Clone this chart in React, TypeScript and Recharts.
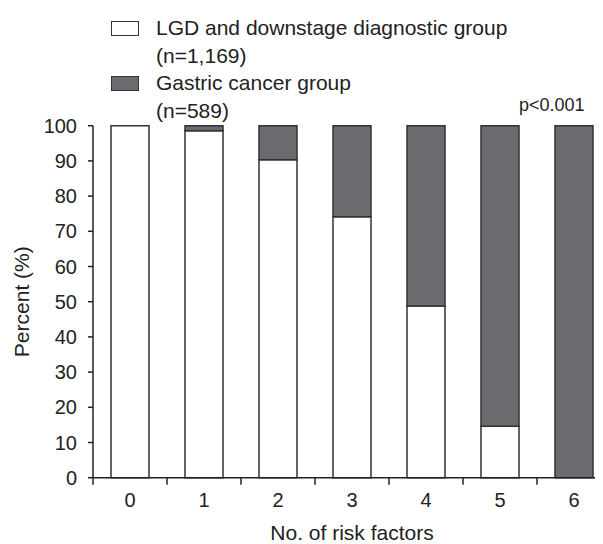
import React from "react";
import { BarChart, Bar, XAxis, YAxis, Legend, Label } from "recharts";

const riskFactors = ["0", "1", "2", "3", "4", "5", "6"];
const lgdPct = [100, 98.6, 90.3, 74.1, 48.8, 14.6, 0];
const cancerPct = [0, 1.4, 9.7, 25.9, 51.2, 85.4, 100];
const yTicks = [0, 10, 20, 30, 40, 50, 60, 70, 80, 90, 100];

const legendItems = [
  { name: "LGD and downstage diagnostic group", n: "(n=1,169)", fill: "#ffffff" },
  { name: "Gastric cancer group", n: "(n=589)", fill: "#6a6b6f" },
];

const data = riskFactors.map((r, i) => ({ r, lgd: lgdPct[i], gc: cancerPct[i] }));

const FONT = "'Liberation Sans', Arial, Helvetica, sans-serif";
const INK = "#222";
const W = 620;
const H = 536;
const margin = { top: 117.7, right: 17, bottom: 0, left: 0 };
const Y_W = 85;
const halfBand = (W - margin.left - margin.right - Y_W) / riskFactors.length / 2;

const XTick = (props: any) => {
  const { x, y, payload, index } = props;
  return (
    <g>
      <line x1={x - halfBand} x2={x - halfBand} y1={y - 7} y2={y} stroke={INK} strokeWidth={1.5} />
      {index === riskFactors.length - 1 && (
        <line x1={x + halfBand} x2={x + halfBand} y1={y - 7} y2={y} stroke={INK} strokeWidth={1.5} />
      )}
      <text x={x} y={y + 8} dy="0.72em" textAnchor="middle" fontSize={20} fill={INK} fontFamily={FONT}>
        {payload.value}
      </text>
    </g>
  );
};

const LegendBox = () => (
  <div style={{ position: "relative", width: 480, height: 115, fontFamily: FONT, fontSize: 21, lineHeight: "27.5px", color: INK }}>
    {legendItems.map((it, k) => (
      <React.Fragment key={it.name}>
        <div
          style={{
            position: "absolute",
            left: 0,
            top: 13 + k * 55,
            width: 26,
            height: 13,
            background: it.fill,
            border: "1.5px solid #333",
          }}
        />
        <div style={{ position: "absolute", left: 45, top: 6 + k * 55, whiteSpace: "nowrap" }}>
          {it.name}
          <br />
          {it.n}
        </div>
      </React.Fragment>
    ))}
    <div style={{ position: "absolute", left: 408, top: 87.8, fontSize: 18, lineHeight: "18px", whiteSpace: "nowrap" }}>
      p&lt;0.001
    </div>
  </div>
);

export default function App() {
  return (
    <div style={{ width: 595, height: H, overflow: "hidden", background: "#fff" }}>
      <BarChart width={W} height={H} data={data} margin={margin}>
        <XAxis
          dataKey="r"
          height={H - margin.top - 352}
          tickLine={false}
          tickSize={7}
          tickMargin={0}
          tick={<XTick />}
          axisLine={{ stroke: INK, strokeWidth: 1.5 }}
          interval={0}
        >
          <Label value="No. of risk factors" position="insideBottom" offset={4} fontSize={21} fill={INK} fontFamily={FONT} />
        </XAxis>
        <YAxis
          width={Y_W}
          domain={[0, 100]}
          ticks={yTicks}
          interval={0}
          tickSize={5}
          tickMargin={11}
          tick={{ fontSize: 20, fill: INK, fontFamily: FONT }}
          tickLine={{ stroke: INK, strokeWidth: 1.5 }}
          axisLine={{ stroke: INK, strokeWidth: 1.5 }}
        >
          <Label
            value="Percent (%)"
            angle={-90}
            position="insideLeft"
            offset={14}
            fontSize={21}
            fill={INK}
            fontFamily={FONT}
            style={{ textAnchor: "middle" }}
          />
        </YAxis>
        <Legend
          layout="vertical"
          align="center"
          verticalAlign="middle"
          wrapperStyle={{ left: 103, top: 0, width: 480 }}
          content={<LegendBox />}
        />
        <Bar dataKey="lgd" stackId="a" fill="#ffffff" stroke="#333" strokeWidth={1.5} barSize={38} isAnimationActive={false} />
        <Bar dataKey="gc" stackId="a" fill="#6a6b6f" stroke="#333" strokeWidth={1.5} barSize={38} isAnimationActive={false} />
      </BarChart>
    </div>
  );
}
